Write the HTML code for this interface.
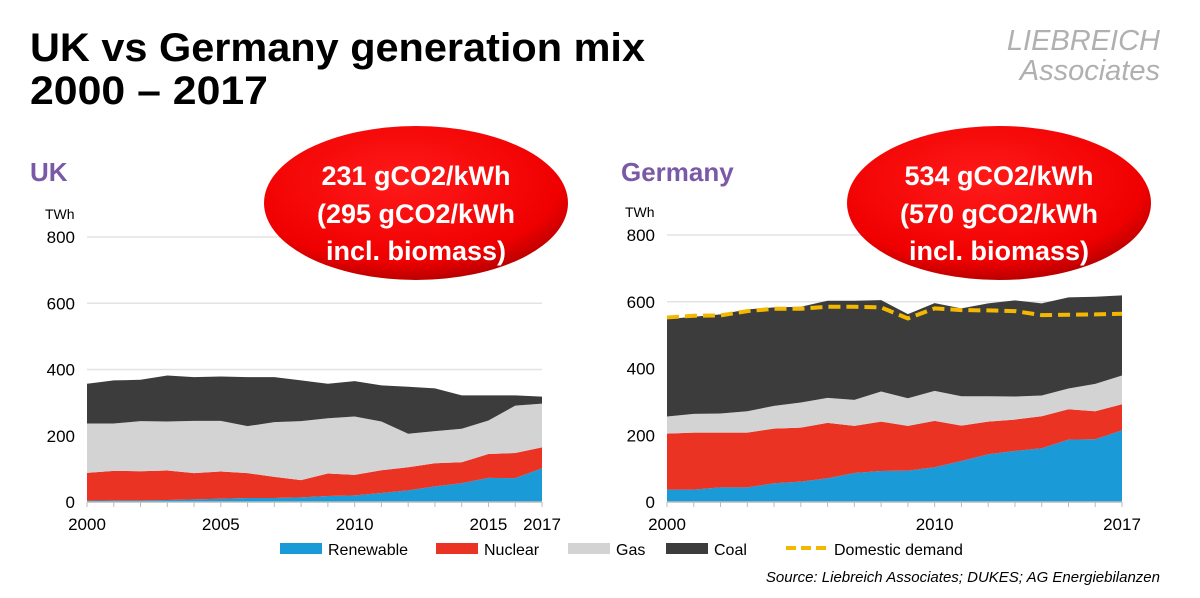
<!DOCTYPE html>
<html><head><meta charset="utf-8">
<style>
html,body{margin:0;padding:0;background:#fff;}
body{width:1200px;height:593px;overflow:hidden;font-family:"Liberation Sans",Arial,sans-serif;}
</style></head>
<body>
<svg id="svg" width="1200" height="593" viewBox="0 0 1200 593" xmlns="http://www.w3.org/2000/svg">
<defs>
<radialGradient id="redg" cx="0.45" cy="0.35" r="0.7">
<stop offset="0" stop-color="#ff1a1a"/><stop offset="0.75" stop-color="#f00000"/><stop offset="1" stop-color="#a80000"/>
</radialGradient>
</defs>
<text x="30" y="61" font-size="40" font-weight="bold" fill="#000" textLength="615" lengthAdjust="spacingAndGlyphs">UK vs Germany generation mix</text>
<text x="30" y="104" font-size="40" font-weight="bold" fill="#000" textLength="238" lengthAdjust="spacingAndGlyphs">2000 – 2017</text>
<text x="1160" y="50" font-size="29" font-style="italic" fill="#b0b0b0" text-anchor="end">LIEBREICH</text>
<text x="1160" y="80" font-size="29" font-style="italic" fill="#b0b0b0" text-anchor="end">Associates</text>
<text x="30" y="181" font-size="26" font-weight="bold" fill="#7a5aa6">UK</text>
<text x="621" y="181" font-size="26" font-weight="bold" fill="#7a5aa6">Germany</text>
<g id="uk"></g>
<g id="de"></g>
<g>
<ellipse cx="416" cy="203" rx="152" ry="77" fill="url(#redg)"/>
<text x="416" y="185" font-size="27" font-weight="bold" fill="#fff" text-anchor="middle">231 gCO2/kWh</text>
<text x="416" y="223" font-size="27" font-weight="bold" fill="#fff" text-anchor="middle">(295 gCO2/kWh</text>
<text x="416" y="260" font-size="27" font-weight="bold" fill="#fff" text-anchor="middle">incl. biomass)</text>
</g>
<g>
<ellipse cx="999" cy="203" rx="152" ry="77" fill="url(#redg)"/>
<text x="999" y="185" font-size="27" font-weight="bold" fill="#fff" text-anchor="middle">534 gCO2/kWh</text>
<text x="999" y="223" font-size="27" font-weight="bold" fill="#fff" text-anchor="middle">(570 gCO2/kWh</text>
<text x="999" y="260" font-size="27" font-weight="bold" fill="#fff" text-anchor="middle">incl. biomass)</text>
</g>
<g>
<rect x="280" y="543" width="42" height="11" fill="#1a9ad6"/>
<text x="328" y="555" font-size="16">Renewable</text>
<rect x="436" y="543" width="42" height="11" fill="#ea3323"/>
<text x="484" y="555" font-size="16">Nuclear</text>
<rect x="568" y="543" width="42" height="11" fill="#d3d3d3"/>
<text x="616" y="555" font-size="16">Gas</text>
<rect x="666" y="543" width="42" height="11" fill="#3c3c3c"/>
<text x="714" y="555" font-size="16">Coal</text>
<line x1="786" y1="548" x2="826" y2="548" stroke="#f5b800" stroke-width="4" stroke-dasharray="10,5"/>
<text x="834" y="555" font-size="16">Domestic demand</text>
</g>
<text x="1160" y="582" font-size="15" font-style="italic" text-anchor="end">Source: Liebreich Associates; DUKES; AG Energiebilanzen</text>
</svg>
<script>
const years = [2000,2001,2002,2003,2004,2005,2006,2007,2008,2009,2010,2011,2012,2013,2014,2015,2016,2017];
const yTicks = [0,200,400,600,800];
// UK generation by source (TWh)
const ukRenewable = [4,5,5,6,8,10,12,12,14,18,20,27,35,47,57,73,72,102];
const ukNuclear = [84,89,88,89,79,82,75,64,52,68,62,69,70,70,63,72,76,63];
const ukGas = [149,143,151,148,158,153,142,165,178,167,176,147,101,97,101,101,143,132];
const ukCoal = [120,130,125,139,132,134,148,136,123,104,107,109,142,129,101,76,31,21];
// Germany generation by source (TWh)
const deRenewable = [37,37,44,44,56,61,71,87,93,94,104,123,143,153,161,187,188,215];
const deNuclear = [168,171,164,164,164,162,166,141,148,134,139,106,98,94,96,91,84,78];
const deGas = [51,56,57,64,68,75,75,78,90,83,90,88,76,69,62,62,82,86];
const deCoal = [292,291,297,305,295,287,291,297,274,252,263,263,278,288,276,273,261,240];
const deDemand = [553,558,559,572,579,579,585,585,583,550,580,575,574,572,560,561,562,564];

const NS="http://www.w3.org/2000/svg";
function el(tag,attrs,parent){const e=document.createElementNS(NS,tag);for(const k in attrs)e.setAttribute(k,attrs[k]);parent.appendChild(e);return e;}

function drawChart(g, prefix, cfg, series, demand, xLabels){
  const xS = y => cfg.x0 + (y-years[0])/(years[years.length-1]-years[0])*(cfg.x1-cfg.x0);
  const yS = v => cfg.y0 - v/800*(cfg.y0-cfg.y800);
  const t1 = el('text',{x:cfg.x0-42,y:cfg.y800-18,'font-size':14},g); t1.textContent='TWh';
  
  
  yTicks.forEach(v=>{
    if(v>0){const l=el('line',{x1:cfg.x0,x2:cfg.x1,y1:yS(v),y2:yS(v),stroke:'#e3e3e3','stroke-width':1.5},g);
      
      }
    const t=el('text',{x:cfg.x0-12,y:yS(v)+6,'font-size':17,'text-anchor':'end'},g); t.textContent=v;
    
    
  });
  const colors=['#1a9ad6','#ea3323','#d3d3d3','#3c3c3c'];
  const names=['renewable','nuclear','gas','coal'];
  let base=years.map(()=>0);
  series.forEach((s,i)=>{
    const top=base.map((b,j)=>b+s[j]);
    let d='M'+years.map((y,j)=>xS(y)+','+yS(top[j])).join(' L');
    for(let j=years.length-1;j>=0;j--) d+=' L'+xS(years[j])+','+yS(base[j]);
    const p=el('path',{d:d+'Z',fill:colors[i]},g);
    
    
    base=top;
  });
  const ax=el('line',{x1:cfg.x0,x2:cfg.x1,y1:cfg.y0,y2:cfg.y0,stroke:'#bbb','stroke-width':1.5},g);
  
  
  years.forEach(y=>{
    const tk=el('line',{x1:xS(y),x2:xS(y),y1:cfg.y0,y2:cfg.y0+5,stroke:'#bbb','stroke-width':1},g);
    
    
  });
  xLabels.forEach(y=>{
    const t=el('text',{x:xS(y),y:cfg.y0+28,'font-size':17,'text-anchor':'middle'},g); t.textContent=y;
    
    
  });
  if(demand){
    const l=el('polyline',{points:years.map((y,j)=>xS(y)+','+yS(demand[j])).join(' '),fill:'none',stroke:'#f5b800','stroke-width':4,'stroke-dasharray':'12,6'},g);
    
    
  }
}
drawChart(document.getElementById('uk'),'uk',{x0:87,x1:542,y0:502,y800:237},[ukRenewable,ukNuclear,ukGas,ukCoal],null,[2000,2005,2010,2015,2017]);
drawChart(document.getElementById('de'),'germany',{x0:667,x1:1122,y0:502,y800:235},[deRenewable,deNuclear,deGas,deCoal],deDemand,[2000,2010,2017]);
</script>
</body></html>
